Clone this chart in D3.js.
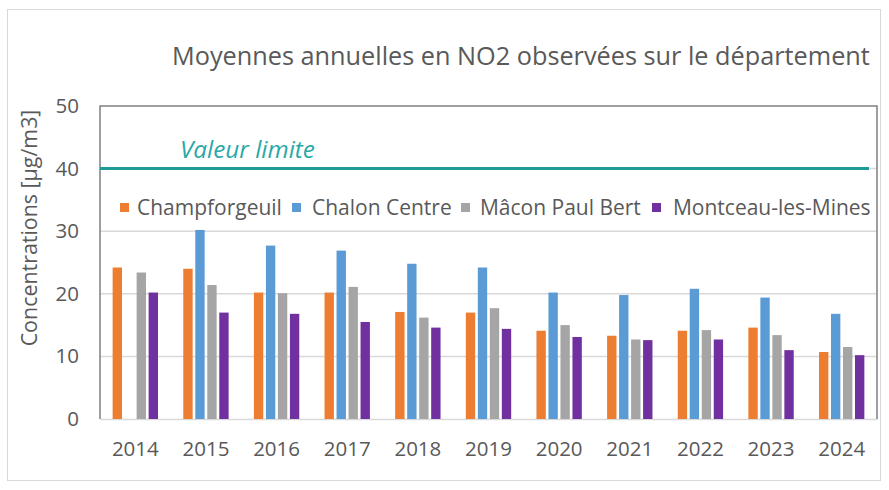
<!DOCTYPE html>
<html><head><meta charset="utf-8">
<script src="https://cdn.jsdelivr.net/npm/d3@7"></script>
<style>body{margin:0;background:#fff}svg{display:block}text{font-family:"Open Sans",sans-serif}</style>
</head><body>
<script>
const years = ["2014","2015","2016","2017","2018","2019","2020","2021","2022","2023","2024"];
const seriesNames = ["Champforgeuil","Chalon Centre","Mâcon Paul Bert","Montceau-les-Mines"];
const champforgeuil = [24.2,24.0,20.2,20.2,17.1,17.0,14.1,13.3,14.1,14.6,10.7];
const chalonCentre = [null,30.2,27.7,26.9,24.8,24.2,20.2,19.8,20.8,19.4,16.8];
const maconPaulBert = [23.4,21.4,20.1,21.1,16.2,17.7,15.0,12.7,14.2,13.4,11.5];
const montceau = [20.2,17.0,16.8,15.5,14.6,14.4,13.1,12.6,12.7,11.0,10.2];
const seriesValues = [champforgeuil, chalonCentre, maconPaulBert, montceau];
const colors = ["#ED7D31","#5B9BD5","#A5A5A5","#7030A0"];
const yTicks = [0,10,20,30,40,50];
const limitValue = 40;
const limitLabel = "Valeur limite";
const title = "Moyennes annuelles en NO2 observées sur le département";
const yTitle = "Concentrations [µg/m3]";

const W = 889, H = 490;
const m = {left:100, right:877, top:106, bottom:419};
const svg = d3.select("body").append("svg").attr("width",W).attr("height",H);

svg.append("rect").attr("x",7.5).attr("y",9.5).attr("width",873).attr("height",471)
  .attr("fill","#fff").attr("stroke","#d9d9d9");

const x0 = d3.scaleBand().domain(years).range([m.left,m.right]).padding(0);
const x1 = d3.scaleBand().domain(seriesNames)
  .range([x0.bandwidth()/2-24, x0.bandwidth()/2+24]).paddingInner(0.22).paddingOuter(0.11);
const y = d3.scaleLinear().domain([0,50]).range([m.bottom,m.top]);

function fitText(sel, target){
  const n = sel.node(); const w = n.getComputedTextLength();
  const fs = parseFloat(sel.attr("font-size"));
  const nf = fs*target/w;
  sel.attr("font-size", nf);
  return nf;
}

// gridlines
const g = svg.append("g");
g.selectAll("line.grid").data(yTicks.filter(t=>t>0&&t<50)).join("line")
  .attr("x1",m.left).attr("x2",m.right).attr("y1",d=>y(d)).attr("y2",d=>y(d))
  .attr("stroke","#d9d9d9").attr("stroke-width",1.5);

// y axis labels
const yAxis = d3.axisLeft(y).tickValues(yTicks).tickSize(0).tickPadding(21);
const ya = svg.append("g").attr("transform",`translate(${m.left},0)`).call(yAxis);
ya.select(".domain").remove();
ya.selectAll("text").attr("font-size",20.5).attr("fill","#595959").attr("font-family","Open Sans");

// x axis
const xAxis = d3.axisBottom(x0).tickSize(0).tickPadding(22);
const xa = svg.append("g").attr("transform",`translate(0,${m.bottom})`).call(xAxis);
xa.select(".domain").attr("stroke","#d9d9d9").attr("stroke-width",1.5);
xa.selectAll("text").attr("font-size",20.5).attr("fill","#595959").attr("font-family","Open Sans");

// bars
const groups = svg.append("g").selectAll("g").data(years).join("g")
  .attr("transform",d=>`translate(${x0(d)},0)`);
groups.selectAll("rect").data((d,i)=>seriesNames.map((s,j)=>({s, v:seriesValues[j][i], c:colors[j]})).filter(d=>d.v!=null))
  .join("rect")
  .attr("x",d=>x1(d.s)).attr("width",x1.bandwidth())
  .attr("y",d=>y(d.v)).attr("height",d=>y(0)-y(d.v)).attr("fill",d=>d.c);

// plot border (top, left, right)
svg.append("path").attr("d",`M${m.left},${m.bottom}V${m.top}H${m.right}V${m.bottom}`)
  .attr("fill","none").attr("stroke","#808080").attr("stroke-width",1.5);

// limit line
svg.append("line").attr("x1",m.left).attr("x2",869).attr("y1",y(limitValue)).attr("y2",y(limitValue))
  .attr("stroke","#1F9A94").attr("stroke-width",3);
const lt = svg.append("text").attr("x",180).attr("y",y(limitValue)-11).attr("font-size",19)
  .attr("font-style","italic").attr("fill","#2AA8A8").text(limitLabel);
fitText(lt,135);

// legend
const legX = [120,292,461,652];
const legTX = [137,312,480,673];
const legTexts = [];
seriesNames.forEach((s,i)=>{
  svg.append("rect").attr("x",legX[i]).attr("y",203).attr("width",9).attr("height",9).attr("fill",colors[i]);
  legTexts.push(svg.append("text").attr("x",legTX[i]).attr("y",215).attr("font-size",17).attr("fill","#595959").text(s));
});
const lfs = fitText(legTexts[0],145);
legTexts.forEach(t=>t.attr("font-size",lfs));

// title
const tt = svg.append("text").attr("x",172).attr("y",65).attr("font-size",21).attr("fill","#595959").text(title);
fitText(tt,698);

// y title
const yt = svg.append("text").attr("transform",`translate(37,228) rotate(-90)`).attr("text-anchor","middle")
  .attr("font-size",17).attr("fill","#595959").text(yTitle);
fitText(yt,237);
</script>
</body></html>
